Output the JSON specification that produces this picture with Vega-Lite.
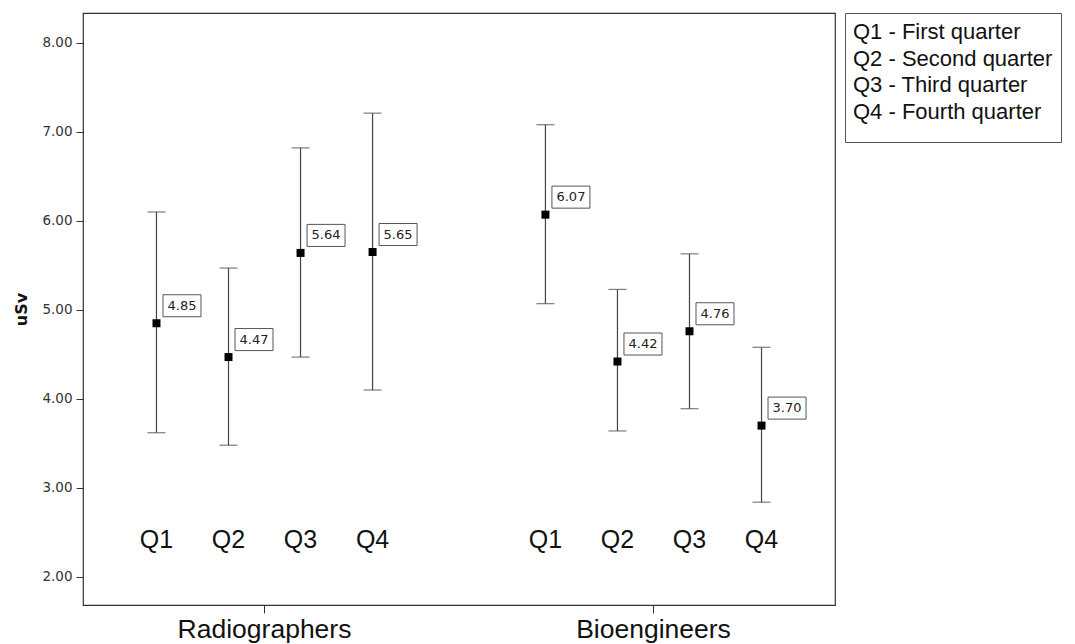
{
  "$schema": "https://vega.github.io/schema/vega-lite/v6.json",
  "autosize": {"type": "none"},
  "padding": {"left": 83, "top": 13, "right": 240, "bottom": 40},
  "width": 752,
  "height": 592,
  "config": {
    "view": {"stroke": "#333", "strokeWidth": 1.2},
    "axis": {"grid": false}
  },
  "data": {
    "values": [
      {"group": "Radiographers", "quarter": "Q1", "qdesc": "Q1 - First quarter", "mean": 4.85, "lo": 3.62, "hi": 6.10},
      {"group": "Radiographers", "quarter": "Q2", "qdesc": "Q2 - Second quarter", "mean": 4.47, "lo": 3.48, "hi": 5.47},
      {"group": "Radiographers", "quarter": "Q3", "qdesc": "Q3 - Third quarter", "mean": 5.64, "lo": 4.47, "hi": 6.82},
      {"group": "Radiographers", "quarter": "Q4", "qdesc": "Q4 - Fourth quarter", "mean": 5.65, "lo": 4.10, "hi": 7.21},
      {"group": "Bioengineers", "quarter": "Q1", "qdesc": "Q1 - First quarter", "mean": 6.07, "lo": 5.07, "hi": 7.08},
      {"group": "Bioengineers", "quarter": "Q2", "qdesc": "Q2 - Second quarter", "mean": 4.42, "lo": 3.64, "hi": 5.23},
      {"group": "Bioengineers", "quarter": "Q3", "qdesc": "Q3 - Third quarter", "mean": 4.76, "lo": 3.89, "hi": 5.63},
      {"group": "Bioengineers", "quarter": "Q4", "qdesc": "Q4 - Fourth quarter", "mean": 3.70, "lo": 2.84, "hi": 4.58}
    ]
  },
  "encoding": {
    "x": {
      "field": "group", "type": "nominal",
      "sort": ["Radiographers", "Bioengineers"],
      "scale": {"paddingInner": 0.2, "paddingOuter": 0.0667},
      "axis": {
        "title": null, "domain": false, "labelAngle": 0,
        "tickSize": 8, "tickColor": "#333", "labelPadding": 3,
        "labelFont": "Liberation Sans", "labelFontSize": 26.5, "labelColor": "#111"
      }
    },
    "xOffset": {
      "field": "quarter", "type": "nominal",
      "scale": {"paddingInner": 0, "paddingOuter": 0.16}
    }
  },
  "layer": [
    {
      "mark": {"type": "rule", "color": "#444", "strokeWidth": 1.2},
      "encoding": {
        "y": {
          "field": "lo", "type": "quantitative",
          "scale": {"domain": [1.685, 8.335], "nice": false, "zero": false},
          "axis": {
            "title": "uSv", "titleFont": "DejaVu Sans", "titleFontSize": 16, "titleFontWeight": "bold",
            "titleColor": "#111", "titlePadding": 12,
            "values": [2, 3, 4, 5, 6, 7, 8], "format": ".2f", "domain": false,
            "tickSize": 7, "tickColor": "#333", "labelPadding": 4,
            "labelFont": "DejaVu Sans", "labelFontSize": 13.5, "labelColor": "#333"
          }
        },
        "y2": {"field": "hi"}
      }
    },
    {
      "mark": {"type": "tick", "orient": "horizontal", "size": 18, "thickness": 1.2, "color": "#444"},
      "encoding": {"y": {"field": "lo", "type": "quantitative"}}
    },
    {
      "mark": {"type": "tick", "orient": "horizontal", "size": 18, "thickness": 1.2, "color": "#444"},
      "encoding": {"y": {"field": "hi", "type": "quantitative"}}
    },
    {
      "mark": {"type": "point", "shape": "square", "size": 64, "filled": true, "color": "#000", "opacity": 1},
      "encoding": {"y": {"field": "mean", "type": "quantitative"}}
    },
    {
      "mark": {
        "type": "point", "shape": "M0.342,-0.58L2.342,-0.58L2.342,0.58L0.342,0.58Z", "size": 1444,
        "filled": true, "fill": "#fff", "stroke": "#555", "strokeWidth": 1, "opacity": 1, "fillOpacity": 1,
        "yOffset": -17.5
      },
      "encoding": {"y": {"field": "mean", "type": "quantitative"}}
    },
    {
      "mark": {
        "type": "text", "font": "DejaVu Sans", "fontSize": 13, "color": "#222",
        "align": "center", "baseline": "middle", "dx": 25.5, "yOffset": -17.5
      },
      "encoding": {
        "y": {"field": "mean", "type": "quantitative"},
        "text": {"field": "mean", "type": "quantitative", "format": ".2f"}
      }
    },
    {
      "mark": {
        "type": "text", "font": "Liberation Sans", "fontSize": 25,
        "align": "center", "baseline": "middle"
      },
      "encoding": {
        "y": {"datum": 2.415, "type": "quantitative"},
        "text": {"field": "quarter", "type": "nominal"},
        "color": {
          "field": "qdesc", "type": "nominal",
          "scale": {"range": ["#111", "#111", "#111", "#111"]},
          "legend": {
            "title": "\u00a0", "titleOrient": "bottom", "titleFontSize": 6, "titlePadding": 5,
            "orient": "right", "offset": 10,
            "padding": 8, "strokeColor": "#555", "fillColor": "#fff",
            "symbolSize": 1, "symbolOpacity": 0, "symbolStrokeWidth": 0,
            "labelOffset": -22, "rowPadding": 4.7,
            "labelFont": "Liberation Sans", "labelFontSize": 22, "labelColor": "#111", "labelLimit": 400
          }
        }
      }
    }
  ]
}
